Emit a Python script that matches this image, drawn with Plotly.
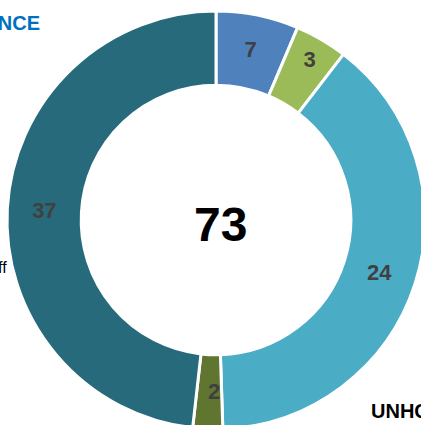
import math
import plotly.graph_objects as go

categories = ["A", "B", "C", "D", "E"]
slice_sizes = [4.66, 2.96, 28.5, 1.68, 35.2]  # arc sizes as drawn in the picture
label_values = ["7", "3", "24", "2", "37"]  # numbers printed on the slices
colors = ["#4F81BD", "#9BBB59", "#4BACC6", "#5F7530", "#276A7C"]
total_label = "73"
narrow_slices = ["2"]  # labels too narrow for Plotly's own fit: placed mid-ring

W, H = 430, 435
cx, cy, R = 216, 220, 209
HOLE = 0.645

FONT = "Arial, Liberation Sans, sans-serif"
LABEL_FONT = dict(family=FONT, size=22, color="#404040", weight="bold")

main_text = [t if t not in narrow_slices else "" for t in label_values]

fig = go.Figure()
fig.add_trace(go.Pie(
    labels=categories,
    values=slice_sizes,
    text=main_text,
    sort=False,
    direction="clockwise",
    rotation=0,
    hole=HOLE,
    marker=dict(colors=colors, line=dict(color="white", width=3)),
    textinfo="text",
    textposition="inside",
    insidetextorientation="horizontal",
    textfont=LABEL_FONT,
    domain=dict(x=[(cx - R) / W, (cx + R) / W], y=[(H - cy - R) / H, (H - cy + R) / H]),
    showlegend=False,
    hoverinfo="skip",
))


def px(x):
    return x / W


def py(y):
    return (H - y) / H


# mid-ring labels for the narrow slices, from the slice data
total = sum(slice_sizes)
r_mid = R * (1 + HOLE) / 2
start = 0.0
for size, lab in zip(slice_sizes, label_values):
    if lab in narrow_slices:
        ang = math.radians((start + size / 2) / total * 360)
        lx = cx + r_mid * math.sin(ang)
        ly = cy - r_mid * math.cos(ang)
        fig.add_annotation(text="<b>" + lab + "</b>", x=px(lx + 5), y=py(ly), xref="paper", yref="paper",
                           xanchor="center", yanchor="middle", showarrow=False,
                           font=dict(family=FONT, size=22, color="#404040"))
    start += size

fig.add_annotation(text="<b>" + total_label + "</b>", x=px(221), y=py(225), xref="paper", yref="paper",
                   xanchor="center", yanchor="middle",
                   showarrow=False, font=dict(family=FONT, size=48, color="black"))
fig.add_annotation(text="<b>PRESENCE</b>", x=px(42), y=py(23), xref="paper", yref="paper",
                   xanchor="right", yanchor="middle",
                   showarrow=False, font=dict(family=FONT, size=20, color="#0070C0"))
fig.add_annotation(text="Staff", x=px(9), y=py(267), xref="paper", yref="paper",
                   xanchor="right", yanchor="middle",
                   showarrow=False, font=dict(family=FONT, size=16, color="black"))
fig.add_annotation(text="<b>UNHCR</b>", x=px(369), y=py(411), xref="paper", yref="paper",
                   xanchor="left", yanchor="middle",
                   showarrow=False, font=dict(family=FONT, size=20, color="black"))

fig.update_layout(width=W, height=H, margin=dict(l=0, r=0, t=0, b=0),
                  paper_bgcolor="white", plot_bgcolor="white")
fig.write_html("out.html",
               config={"displayModeBar": False},
               post_script="document.body.style.margin='0';document.body.style.overflow='hidden';"
                           "document.documentElement.style.overflow='hidden';")
